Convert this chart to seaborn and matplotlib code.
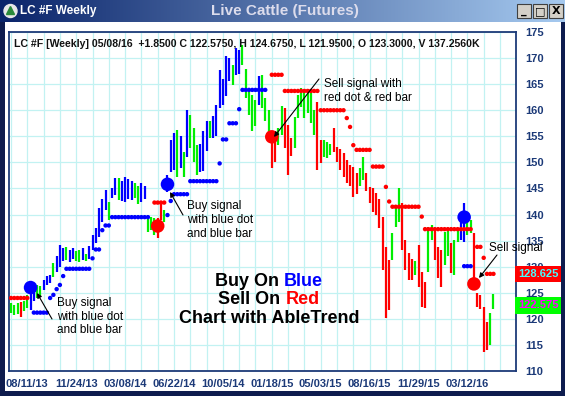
import matplotlib
matplotlib.use("Agg")
import numpy as np
import pandas as pd
import matplotlib.pyplot as plt
import seaborn as sns
from matplotlib.patches import Rectangle
from matplotlib.colors import LinearSegmentedColormap

# weekly bars, index 0 = first week shown, 148 = 05/08/16
high = [123.0, 122.6, 123.0, 123.3, 123.5, 124.5, 126.9, 126.0, 126.5, 126.3,
        127.5, 128.2, 128.5, 130.7, 132.0, 134.2, 133.5, 133.8, 133.2, 133.6,
        133.0, 133.2, 133.5, 132.5, 134.0, 136.0, 137.5, 141.3, 143.0, 144.7,
        142.5, 145.1, 147.0, 147.0, 146.5, 147.2, 146.8, 146.5, 146.0, 145.5,
        146.0, 145.5, 139.3, 139.5, 139.3, 139.3, 142.6, 140.9, 147.6, 154.3,
        155.6, 156.2, 155.0, 152.0, 160.0, 159.1, 156.5, 153.3, 153.5, 156.0,
        157.9, 157.9, 158.9, 161.0, 167.7, 166.0, 170.4, 170.0, 168.7, 171.9,
        171.5, 172.5, 168.0, 164.3, 162.9, 162.0, 166.6, 166.8, 162.3, 160.0,
        155.2, 155.0, 156.6, 160.8, 160.4, 157.2, 154.7, 158.7, 162.9, 164.3,
        163.5, 164.0, 163.9, 160.0, 161.6, 154.3, 154.3, 154.0, 153.5, 156.6,
        153.0, 152.5, 151.8, 150.5, 149.5, 149.1, 148.0, 149.0, 151.0, 148.0,
        145.3, 145.0, 144.1, 143.0, 139.5, 133.8, 131.3, 136.5, 141.5, 145.1,
        142.2, 135.1, 132.6, 131.5, 131.0, 134.2, 129.0, 127.0, 137.6, 138.0,
        137.0, 133.8, 133.2, 136.6, 137.2, 134.5, 135.1, 137.0, 140.3, 142.2,
        139.0, 139.0, 136.5, 125.0, 124.5, 122.3, 119.4, 121.1, 124.675]
low = [121.2, 120.8, 121.0, 120.4, 121.5, 122.0, 121.7, 123.5, 124.0, 124.2,
       125.5, 126.5, 126.8, 128.0, 129.0, 129.9, 131.0, 131.2, 130.9, 131.5,
       131.0, 130.9, 131.2, 131.0, 131.5, 133.2, 134.5, 135.7, 138.5, 140.8,
       139.0, 143.2, 143.7, 142.8, 142.6, 142.4, 143.0, 142.8, 143.2, 142.0,
       142.4, 143.0, 136.6, 137.0, 136.0, 135.5, 139.0, 138.6, 144.3, 148.2,
       148.5, 147.2, 149.0, 147.2, 151.0, 152.8, 150.0, 147.5, 148.2, 148.3,
       152.2, 154.7, 154.7, 155.0, 160.4, 161.0, 162.7, 165.6, 164.8, 166.8,
       167.0, 168.7, 162.3, 159.1, 156.0, 157.0, 161.0, 160.4, 157.9, 155.5,
       148.9, 150.0, 153.3, 155.2, 152.8, 147.6, 151.2, 152.8, 158.5, 160.6,
       158.5, 159.5, 157.5, 155.2, 148.5, 149.9, 151.0, 150.8, 151.5, 152.0,
       150.1, 148.5, 147.2, 146.0, 145.5, 143.4, 144.0, 145.5, 146.6, 144.5,
       142.2, 140.5, 139.9, 137.5, 129.4, 120.1, 121.7, 131.3, 137.7, 138.6,
       133.2, 129.4, 127.4, 127.5, 128.5, 126.1, 122.3, 122.1, 129.0, 135.1,
       131.3, 127.8, 126.1, 130.3, 132.0, 128.8, 128.4, 134.7, 135.1, 134.7,
       136.0, 136.5, 125.5, 122.3, 121.8, 113.6, 114.0, 115.0, 121.95]
# b = up trend (blue), r = down trend (red), g = neutral (green)
bar_trend = ("gggrggbbgg" "bbbgbbbgbb" "ggbgbbbbbb" "gbbgbbbbgg" "bbgggrrgbb"
             "bgbgbgggbb" "bgbbbbbbgb" "bgggggbggg" "rrggrrrggg" "ggggrrgggr"
             "rrrrrrrggr" "rrrrrrrggg" "rrrrgrrrgg" "rrrggrggbb" "ggrrrrrgg")

# stop dots as runs: (first week, last week, price)
red_stop_runs = [(0, 5, 124.0), (44, 47, 142.3), (80, 83, 166.8), (84, 94, 163.7),
                 (95, 102, 160.0), (103, 103, 158.5), (104, 104, 156.8),
                 (105, 105, 153.3), (106, 110, 152.4), (111, 114, 149.2),
                 (115, 115, 145.3), (116, 116, 142.5), (117, 125, 141.5),
                 (126, 126, 139.6), (127, 141, 137.2), (143, 144, 133.8),
                 (145, 145, 131.7), (146, 148, 128.625)]
blue_stop_runs = [(7, 11, 121.2), (12, 12, 124.0), (13, 13, 124.6), (14, 14, 125.7),
                  (15, 15, 126.5), (16, 16, 128.2), (17, 24, 129.6), (25, 25, 131.6),
                  (26, 27, 133.3), (28, 28, 137.0), (29, 30, 137.9), (31, 42, 139.5),
                  (48, 48, 139.9), (49, 49, 142.6), (50, 54, 143.9), (55, 63, 146.4),
                  (64, 64, 149.8), (65, 66, 154.4), (67, 69, 157.5), (70, 70, 160.2),
                  (71, 78, 163.9), (139, 141, 130.1)]

# buy / sell signal dots
sig_week = [6, 45, 48, 80, 139, 142]
sig_price = [126.0, 137.8, 145.8, 154.9, 139.5, 126.7]
sig_side = ["buy", "sell", "buy", "sell", "buy", "sell"]

date_week = [5, 20, 35, 50, 65, 80, 95, 110, 125, 140]
date_labels = ["08/11/13", "11/24/13", "03/08/14", "06/22/14", "10/05/14",
               "01/18/15", "05/03/15", "08/16/15", "11/29/15", "03/12/16"]

last_close = 122.575
last_stop = 128.625
header = ("LC #F [Weekly] 05/08/16  +1.8500 C 122.5750, H 124.6750, "
          "L 121.9500, O 123.3000, V 137.2560K")

BLUE, RED, GREEN = "#0000ff", "#ff0000", "#00ee00"
NAVY = "#1c3a78"

sns.set_style("white")
plt.rcParams["font.family"] = ["Liberation Sans", "DejaVu Sans"]

W, H = 565, 396
fig = plt.figure(figsize=(W / 100, H / 100), dpi=100)
fig.patch.set_facecolor("white")


def fx(px):
    return px / W


def fy(py):
    return 1 - py / H


ax = fig.add_axes([fx(9), fy(371), (516 - 9) / W, (371 - 32) / H])
ax.set_facecolor("white")

# grid
for v in range(110, 176, 5):
    ax.axhline(v, color="#c2f2f2", lw=0.9, zorder=0)
for i in range(0, 151, 5):
    ax.axvline(i, color="#c2f2f2", lw=0.9, zorder=0)

bars = pd.DataFrame({"week": np.arange(len(high)), "high": high, "low": low,
                     "trend": list(bar_trend)})
cmap = {"b": BLUE, "r": RED, "g": GREEN}
for t, grp in bars.groupby("trend"):
    ax.vlines(grp["week"], grp["low"], grp["high"], color=cmap[t], lw=1.6, zorder=3)

rows = []
for side, runs in (("red", red_stop_runs), ("blue", blue_stop_runs)):
    for a, b, v in runs:
        ax.plot([a, b], [v, v], color=RED if side == "red" else BLUE, lw=1.0, zorder=4)
        for i in range(a, b + 1):
            rows.append((i, v, side))
stops = pd.DataFrame(rows, columns=["week", "price", "side"])
sns.scatterplot(data=stops, x="week", y="price", hue="side",
                palette={"red": RED, "blue": BLUE}, s=10, linewidth=0,
                legend=False, ax=ax, zorder=5)

sig = pd.DataFrame({"week": sig_week, "price": sig_price, "side": sig_side})
sns.scatterplot(data=sig, x="week", y="price", hue="side",
                palette={"buy": BLUE, "sell": RED}, s=95, linewidth=0,
                legend=False, ax=ax, zorder=6)

ax.set_xlim((9 - 11) / 3.26, (516 - 11) / 3.26)
ax.set_ylim(110, 175)
ax.set_xlabel("")
ax.set_ylabel("")

ax.yaxis.tick_right()
ax.set_yticks(range(110, 176, 5))
ax.set_yticklabels([str(v) for v in range(110, 176, 5)], fontsize=8,
                   fontweight="bold", color=NAVY)
ax.tick_params(axis="y", length=0, pad=7)

xt = list(range(0, 146, 5))
ax.set_xticks(xt)
lab = dict(zip(date_week, date_labels))
ax.set_xticklabels([lab.get(i, "") for i in xt], fontsize=8, fontweight="bold",
                   color=NAVY)
ax.tick_params(axis="x", direction="out", length=4, width=1, color=NAVY, pad=2)

for s in ax.spines.values():
    s.set_color(NAVY)
    s.set_linewidth(1.3)

# header line inside chart
fig.text(fx(14), fy(44), header, fontsize=7.6, fontweight="bold", va="center",
         color="#111111")

# value tags on the price axis
ax.text(1.005, last_stop, "128.625", transform=ax.get_yaxis_transform(),
        fontsize=8, fontweight="bold", color="#44ffff", va="center", ha="left",
        bbox=dict(boxstyle="square,pad=0.3", fc=RED, ec="none"), zorder=10,
        clip_on=False)
ax.text(1.005, last_close, "122.575", transform=ax.get_yaxis_transform(),
        fontsize=8, fontweight="bold", color="#ff00ff", va="center", ha="left",
        bbox=dict(boxstyle="square,pad=0.3", fc="#00ff00", ec="none"), zorder=10,
        clip_on=False)


def arrow(tail, head):
    fig.add_artist(plt.Annotation(
        "", xy=(fx(head[0]), fy(head[1])), xytext=(fx(tail[0]), fy(tail[1])),
        xycoords="figure fraction", textcoords="figure fraction",
        arrowprops=dict(arrowstyle="-|>", color="black", lw=0.8,
                        mutation_scale=7, shrinkA=0, shrinkB=0)))


note = dict(fontsize=8.5, color="black", va="center", ha="left", linespacing=1.2)
fig.text(fx(57), fy(316.5), "Buy signal\nwith blue dot\nand blue bar", **note)
arrow((52, 319), (37, 293))
fig.text(fx(187), fy(220), "Buy signal\nwith blue dot\nand blue bar", **note)
arrow((183, 215), (170, 192))
fig.text(fx(324), fy(91), "Sell signal with\nred dot & red bar", **note)
arrow((319, 79), (274, 137))
fig.text(fx(489), fy(248), "Sell signal", **note)
arrow((497, 255), (479, 278))

# centre caption
r = fig.canvas.get_renderer()
big = dict(fontsize=13, fontweight="bold", va="center")
for y, first, word, col in ((281, "Buy On", "Blue", BLUE),
                            (300, "Sell On", "Red", RED),
                            (318.5, "Chart with AbleTrend", "", "black")):
    full = first + (" " + word if word else "")
    probe = fig.text(0, fy(y), full, alpha=0, **big)
    w = probe.get_window_extent(r).width
    fig.text(fx(269 - w / 2), fy(y), first, ha="left", color="black", **big)
    if word:
        fig.text(fx(269 + w / 2), fy(y), word, ha="right", color=col, **big)

# window title bar
tb = fig.add_axes([0, fy(22), 1, 22 / H])
grad = LinearSegmentedColormap.from_list("tb", ["#0a246a", "#a6caf0"])
tb.imshow(np.linspace(0, 1, 256)[None, :], aspect="auto", cmap=grad,
          extent=(0, W, 0, 22))
tb.set_xlim(0, W)
tb.set_ylim(0, 22)
tb.axis("off")
tb.add_patch(plt.Circle((10.5, 11), 6.5, color="#e8e8e8"))
tb.add_patch(plt.Polygon([[6.5, 7.5], [14.5, 7.5], [10.5, 15.5]], color="#2a8a3a"))
tb.text(20, 11, "LC #F Weekly", color="white", fontsize=8.5, fontweight="bold",
        va="center", ha="left")
tb.text(285, 10.5, "Live Cattle (Futures)", color="#dcdcec", fontsize=11,
        fontweight="bold", va="center", ha="center")
for x0, sym in ((517, "_"), (533, "□"), (549, "X")):
    tb.add_patch(Rectangle((x0, 4), 14, 14, fc="#d4d0c8", ec="#404040", lw=0.8))
    tb.text(x0 + 7, 11, sym, fontsize=8, fontweight="bold", ha="center",
            va="center", color="black", family=["DejaVu Sans"])

# window frame
frame = "#0e1c4e"
fig.patches.append(Rectangle((0, 0), fx(5), fy(22), transform=fig.transFigure,
                             fc=frame, ec="none"))
fig.patches.append(Rectangle((fx(561), 0), fx(4), fy(22), transform=fig.transFigure,
                             fc=frame, ec="none"))
fig.patches.append(Rectangle((0, 0), 1, 5 / H, transform=fig.transFigure,
                             fc=frame, ec="none"))

fig.savefig("out.png", dpi=100)
